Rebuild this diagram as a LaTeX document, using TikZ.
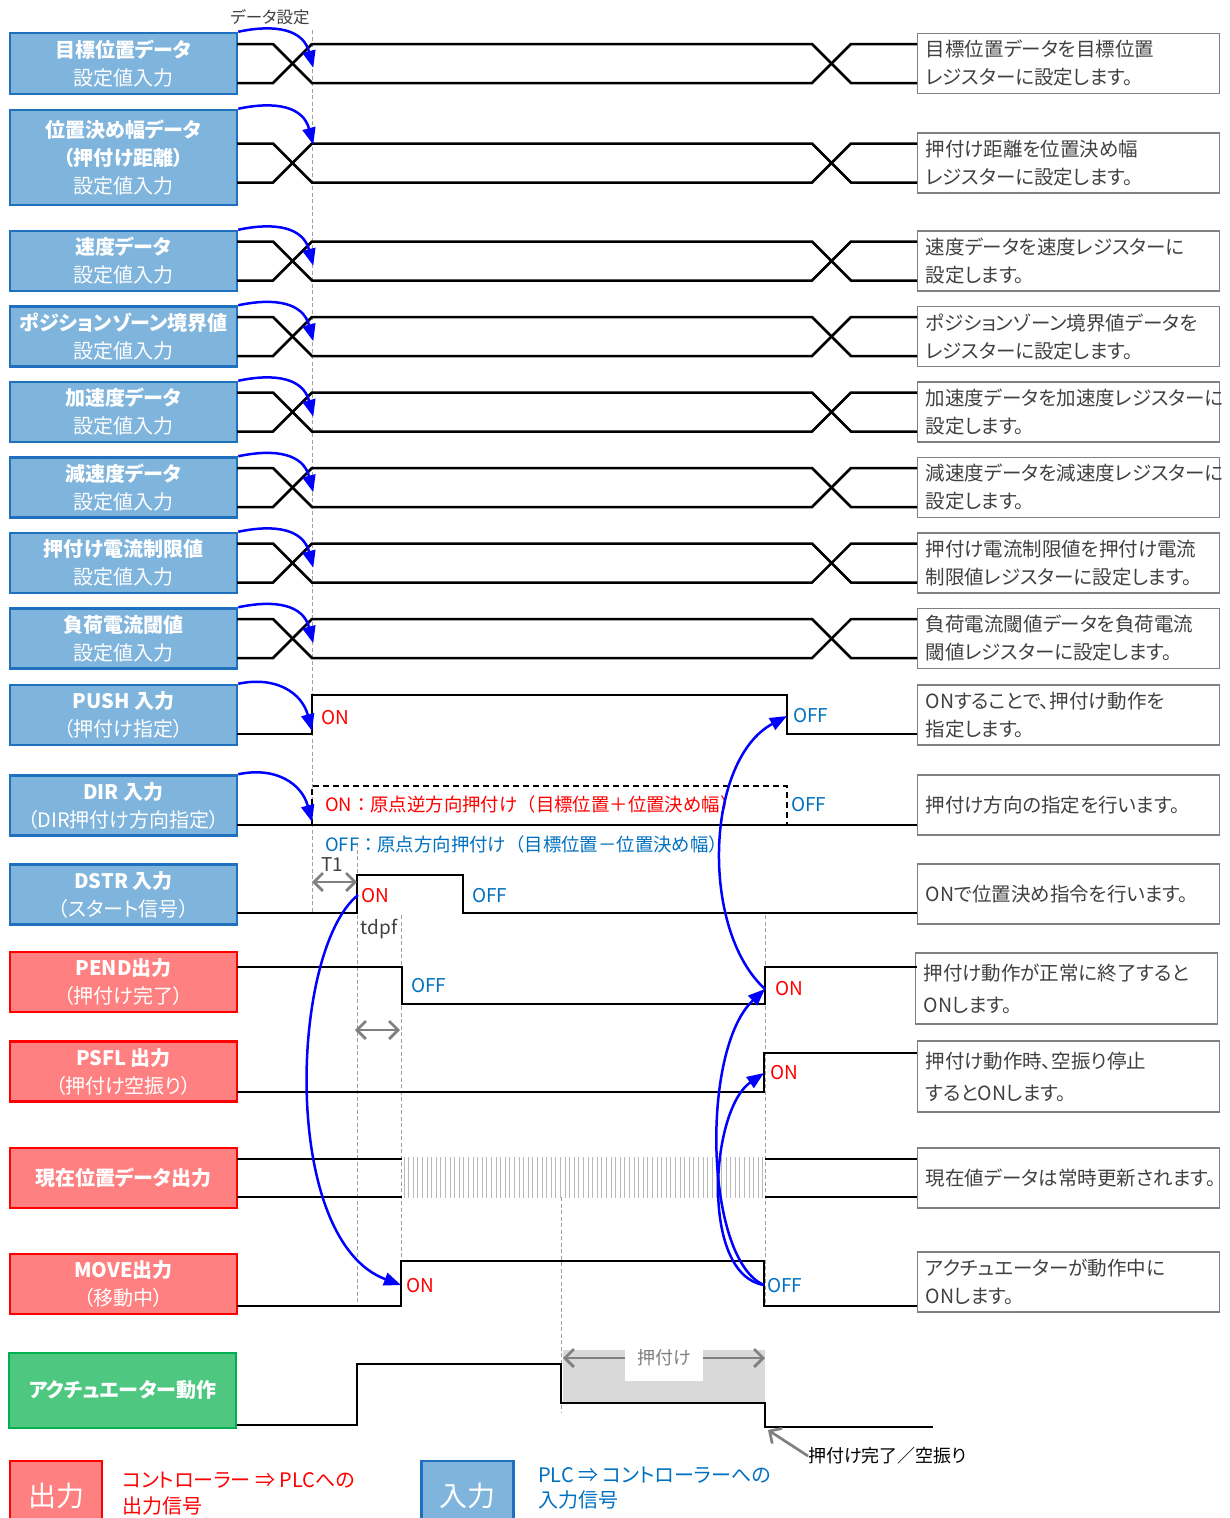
\documentclass[tikz,border=0pt]{standalone}
\usepackage{fontspec}
\setmainfont{Noto Sans CJK JP}[RawFeature=+palt]
\newfontfamily\fullw{Noto Sans CJK JP}
\usetikzlibrary{arrows.meta}

\begin{document}
\begin{tikzpicture}[x=1pt,y=-1pt,>={Straight Barb[length=9pt,width=18pt]},
    sig/.style={line width=2.5pt},
    guide/.style={draw=gray!75,line width=1pt,dash pattern=on 4pt off 2.5pt},
    cause/.style={draw=sigblue,line width=2.5pt,-{Triangle[length=17pt,width=13pt]}},
    span/.style={draw=gray,line width=2.7pt,<->},
    inbox/.style={draw=inedge,fill=infill,line width=2.5pt,minimum width=227pt,minimum height=60pt,inner sep=0pt,text=white,align=center,font=\fontsize{20}{28}\selectfont},
    outbox/.style={inbox,draw=outedge,fill=outfill},
    actbox/.style={inbox,draw=actedge,fill=actfill,minimum height=75pt},
    notebox/.style={draw=gray,line width=1.2pt,anchor=west,minimum height=60pt,text width=286pt,inner xsep=8pt,inner ysep=0pt,align=left,text=notegray,font=\fontsize{19.5}{28}\selectfont},
    onlbl/.style={text=red,anchor=west,inner sep=0pt,font=\fontsize{19}{22}\selectfont},
    offlbl/.style={onlbl,text=offblue},
    timelbl/.style={text=notegray,inner sep=0pt,font=\fontsize{18}{22}\selectfont}]
    \definecolor{infill}{RGB}{127,180,221}
    \definecolor{inedge}{RGB}{31,112,190}
    \definecolor{outfill}{RGB}{255,128,128}
    \definecolor{outedge}{RGB}{255,0,0}
    \definecolor{actfill}{RGB}{78,199,128}
    \definecolor{actedge}{RGB}{0,176,80}
    \definecolor{notegray}{RGB}{64,64,64}
    \definecolor{offblue}{RGB}{0,112,192}
    \definecolor{sigblue}{RGB}{0,0,255}
    \useasboundingbox (0,0) rectangle (1229,1518);

    \draw[guide] (312,30) -- (312,913);
    \draw[guide] (357,843) -- (357,1302);
    \draw[guide] (401,915) -- (401,1261);
    \draw[guide] (765,915) -- (765,1306);
    \draw[guide] (561,1197) -- (561,1413);

    \node[timelbl,font=\fontsize{16.5}{20}\selectfont] (setlbl) at (270,17) {データ設定};

    \foreach \c/\bc/\bh/\ttl/\nA/\nB [count=\i] in {
        63.5/63.5/61/{\textbf{目標位置データ}\\設定値入力}/{目標位置データを目標位置}/{レジスターに設定します。},
        163/157.5/95/{\textbf{位置決め幅データ}\\\textbf{（押付け距離）}\\設定値入力}/{押付け距離を位置決め幅}/{レジスターに設定します。},
        261/261/60/{\textbf{速度データ}\\設定値入力}/{速度データを速度レジスターに}/{設定します。},
        336.5/336.5/60/{\textbf{ポジションゾーン境界値}\\設定値入力}/{ポジションゾーン境界値データを}/{レジスターに設定します。},
        412/412/60/{\textbf{加速度データ}\\設定値入力}/{加速度データを加速度レジスターに}/{設定します。},
        487.5/487.5/60/{\textbf{減速度データ}\\設定値入力}/{減速度データを減速度レジスターに}/{設定します。},
        563/563/60/{\textbf{押付け電流制限値}\\設定値入力}/{押付け電流制限値を押付け電流}/{制限値レジスターに設定します。},
        638.5/638.5/60/{\textbf{負荷電流閾値}\\設定値入力}/{負荷電流閾値データを負荷電流}/{閾値レジスターに設定します。}} {
        \node[inbox,minimum height=\bh pt] (b\i) at (123.5,\bc) {\ttl};
        \node[notebox] (n\i) at (917,\c) {\nA\\\nB};
        \draw[sig] (237,\c-19.5) -- (273,\c-19.5) -- (312,\c+19.5) -- (812,\c+19.5) -- (851,\c-19.5) -- (917,\c-19.5);
        \draw[sig] (237,\c+19.5) -- (273,\c+19.5) -- (312,\c-19.5) -- (812,\c-19.5) -- (851,\c+19.5) -- (917,\c+19.5);
        \coordinate (s\i) at ([xshift=75pt,yshift=-36pt]b\i.north east);
        \draw[cause] (b\i.north east) .. controls +(38,-8) and +(-10,-38) .. (s\i);
    }

    % PUSH
    \node[inbox] (push) at (123.5,715) {\textbf{PUSH 入力}\\（押付け指定）};
    \node[notebox] (npush) at (917,715) {ONすることで、押付け動作を\\指定します。};
    \draw[sig] (237,734) -- (312,734) -- (312,695) -- (787,695) -- (787,734) -- (917,734);
    \coordinate (pushon) at (312,731);
    \coordinate (pushoff) at (787,716);
    \node[onlbl] (pushonlbl) at (321,718) {ON};
    \node[offlbl] (pushofflbl) at (793,716) {OFF};
    \draw[cause] (push.north east) .. controls +(38,-8) and +(-10,-38) .. (pushon);

    % DIR
    \node[inbox] (dir) at (123.5,805.5) {\textbf{DIR 入力}\\（DIR押付け方向指定）};
    \node[notebox] (ndir) at (917,805) {押付け方向の指定を行います。};
    \draw[sig] (237,825) -- (917,825);
    \draw[sig,dashed,dash pattern=on 6pt off 4pt] (312,825) -- (312,786) -- (787,786) -- (787,825);
    \coordinate (diron) at (312,822);
    \node[onlbl,font=\fullw\fontsize{18.4}{22}\selectfont] (dironlbl) at (325,804) {ON：原点逆方向押付け（目標位置＋位置決め幅）};
    \node[offlbl] (dirofflbl) at (791,805) {OFF};
    \node[offlbl,font=\fullw\fontsize{18.4}{22}\selectfont] (dirofftxt) at (325,844) {OFF：原点方向押付け（目標位置－位置決め幅）};
    \draw[cause] (dir.north east) .. controls +(38,-8) and +(-10,-38) .. (diron);

    % DSTR
    \node[inbox] (dstr) at (123.5,894.5) {\textbf{DSTR 入力}\\（スタート信号）};
    \node[notebox] (ndstr) at (917,894) {ONで位置決め指令を行います。};
    \draw[sig] (237,913) -- (357,913) -- (357,875) -- (463,875) -- (463,913) -- (917,913);
    \coordinate (dstron) at (358,895);
    \node[onlbl] (dstronlbl) at (361,896) {ON};
    \node[offlbl] (dstrofflbl) at (472,896) {OFF};
    \coordinate (t1a) at (312,882);
    \coordinate (t1b) at (357,882);
    \draw[span] (t1a) -- (t1b);
    \node[timelbl,font=\fontsize{19}{22}\selectfont] (t1lbl) at (332,865) {T1};
    \node[timelbl,font=\fontsize{19}{22}\selectfont] (tdpflbl) at (379,929) {tdpf};

    % PEND
    \node[outbox] (pend) at (123.5,982) {\textbf{PEND出力}\\（押付け完了）};
    \node[notebox,minimum height=71pt,font=\fontsize{19.5}{32}\selectfont] (npend) at (915,988.5) {押付け動作が正常に終了すると\\ONします。};
    \draw[sig] (237,967) -- (402,967) -- (402,1004) -- (765,1004) -- (765,967) -- (917,967);
    \coordinate (pendon) at (765,989);
    \node[offlbl] (pendofflbl) at (411,986) {OFF};
    \node[onlbl] (pendonlbl) at (775,989) {ON};
    \coordinate (tda) at (355,1030);
    \coordinate (tdb) at (400,1030);
    \draw[span] (tda) -- (tdb);

    % PSFL
    \node[outbox] (psfl) at (123.5,1071.5) {\textbf{PSFL 出力}\\（押付け空振り）};
    \node[notebox,minimum height=71pt,font=\fontsize{19.5}{32}\selectfont] (npsfl) at (917,1076.5) {押付け動作時、空振り停止\\するとONします。};
    \draw[sig] (237,1092) -- (764,1092) -- (764,1053) -- (917,1053);
    \coordinate (psflon) at (764,1073);
    \node[onlbl] (psflonlbl) at (770,1073) {ON};

    % current position
    \node[outbox] (cpos) at (123.5,1178) {\textbf{現在位置データ出力}};
    \node[notebox] (ncpos) at (917,1178) {現在値データは常時更新されます。};
    \foreach \hx in {404,408.6,...,763} \draw[gray!55,line width=1pt] (\hx,1157) -- (\hx,1198);
    \draw[sig] (237,1159) -- (402,1159) (765,1159) -- (917,1159);
    \draw[sig] (237,1197) -- (402,1197) (765,1197) -- (917,1197);

    % MOVE
    \node[outbox] (move) at (123.5,1284) {\textbf{MOVE出力}\\（移動中）};
    \node[notebox] (nmove) at (917,1282) {アクチュエーターが動作中に\\ONします。};
    \draw[sig] (237,1306) -- (401,1306) -- (401,1261) -- (764,1261) -- (764,1306) -- (917,1306);
    \coordinate (moveon) at (401,1285);
    \coordinate (moveoff) at (764,1285);
    \node[onlbl] (moveonlbl) at (406,1286) {ON};
    \node[offlbl] (moveofflbl) at (767,1286) {OFF};

    % actuator
    \node[actbox] (act) at (122.5,1390.5) {\textbf{アクチュエーター動作}};
    \fill[gray!30] (563,1350) rectangle (765,1403);
    \coordinate (pa) at (563,1358);
    \coordinate (pb) at (765,1358);
    \draw[span] (pa) -- (pb);
    \node[fill=white,minimum width=78pt,minimum height=31pt] (pushbg) at (664,1365.5) {};
    \node[timelbl,text=gray] (pushlbl) at (664,1358) {押付け};
    \draw[sig] (237,1425) -- (357,1425) -- (357,1364) -- (561,1364) -- (561,1403) -- (765,1403) -- (765,1427) -- (933,1427);
    \coordinate (actend) at (768,1430);
    \node[timelbl,text=black,anchor=west] (donelbl) at (808,1456) {押付け完了／空振り};
    \draw[draw=gray,line width=2.7pt,->] (donelbl.west) -- (actend);

    % causes
    \draw[cause] (dstron) .. controls (290,950) and (280,1240) .. (moveon);
    \draw[cause] (pendon) .. controls (700,930) and (705,760) .. (pushoff);
    \draw[cause] (moveoff) .. controls (705,1260) and (700,1050) .. (pendon);
    \draw[cause] (moveoff) .. controls (700,1275) and (710,1110) .. (psflon);

    % legend
    \node[outbox,minimum width=92pt,minimum height=70pt,font=\fontsize{28}{30}\selectfont] (outkey) at (56,1496) {出力};
    \node[anchor=west,text=outedge,align=left,inner sep=0pt,font=\fontsize{20}{26}\selectfont] (outtxt) at (122,1494) {コントローラー ⇒ PLCへの\\出力信号};
    \node[inbox,minimum width=92pt,minimum height=70pt,font=\fontsize{28}{30}\selectfont] (inkey) at (467.5,1496) {入力};
    \node[anchor=west,text=offblue,align=left,inner sep=0pt,font=\fontsize{20}{25}\selectfont] (intxt) at (538,1488.5) {PLC ⇒ コントローラーへの\\入力信号};
\end{tikzpicture}
\end{document}
